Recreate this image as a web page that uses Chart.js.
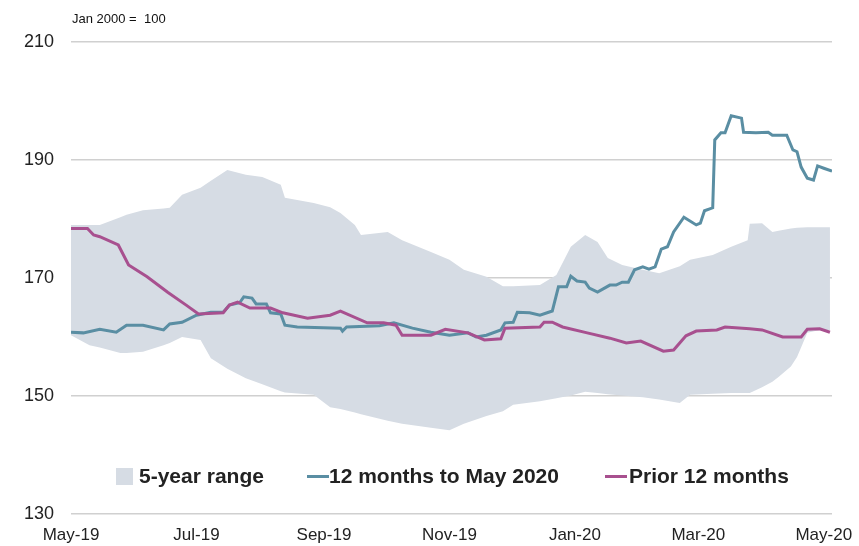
<!DOCTYPE html>
<html>
<head>
<meta charset="utf-8">
<script src="https://cdn.jsdelivr.net/npm/chart.js@4.4.1/dist/chart.umd.min.js"></script>
<style>
  body { margin: 0; background: #fff; font-family: "Liberation Sans", Arial, sans-serif; }
  #wrap { position: relative; width: 859px; height: 546px; }
  #note { position: absolute; left: 72px; top: 11px; font-size: 13px; color: #111; white-space: pre; }
  .leg { position: absolute; top: 464px; font-size: 21px; font-weight: bold; color: #222; line-height: 24px; }
  .box { position: absolute; top: 468px; width: 17px; height: 17px; background: #d6dce4; }
  .ln { position: absolute; top: 475px; width: 22px; height: 3px; }
</style>
</head>
<body>
<div id="wrap">
  <canvas id="chart"></canvas>
  <div id="note">Jan 2000 =  100</div>
  <div class="box" style="left:116px"></div>
  <div class="leg" style="left:139px">5-year range</div>
  <div class="ln" style="left:307px;background:#5a8ea3"></div>
  <div class="leg" style="left:329px">12 months to May 2020</div>
  <div class="ln" style="left:605px;background:#a8508f"></div>
  <div class="leg" style="left:629px">Prior 12 months</div>
</div>
<script>
// x values are days since 1 May 2019
const tickDays = [0, 61, 123, 184, 245, 305, 366];
const tickLabels = ['May-19', 'Jul-19', 'Sep-19', 'Nov-19', 'Jan-20', 'Mar-20', 'May-20'];

const bandDays = [0, 9, 14, 24, 27, 35, 45, 48, 54, 63, 68, 76, 85, 93, 102, 104, 118, 126, 131, 138,
  141, 154, 161, 175, 184, 191, 202, 210, 215, 228, 236, 243, 250, 256, 261, 268, 278, 286, 296, 301,
  312, 321, 329, 330, 336, 341, 344, 350, 353, 358, 364, 369];
const bandHigh = [179.0, 179.0, 179.0, 180.3, 180.7, 181.5, 181.8, 181.9, 184.1, 185.3, 186.5, 188.3,
  187.5, 187.1, 185.8, 183.6, 182.7, 182.0, 181.0, 179.0, 177.3, 177.8, 176.4, 174.4, 173.1, 171.4,
  170.2, 168.6, 168.6, 168.8, 170.5, 175.3, 177.3, 176.1, 173.4, 172.2, 171.4, 170.8, 172.0, 173.1,
  173.9, 175.3, 176.4, 179.2, 179.3, 177.8, 178.0, 178.4, 178.5, 178.6, 178.6, 178.6];
const bandLow = [160.3, 158.6, 158.2, 157.3, 157.3, 157.5, 158.6, 159.0, 160.0, 159.5, 156.4, 154.6,
  153.0, 152.0, 150.8, 150.6, 150.2, 148.1, 147.8, 147.2, 146.9, 145.8, 145.3, 144.6, 144.2, 145.3,
  146.6, 147.4, 148.5, 149.1, 149.6, 150.1, 150.7, 150.5, 150.3, 150.1, 149.8, 149.4, 148.8, 150.2,
  150.4, 150.5, 150.5, 150.5, 151.5, 152.4, 153.2, 155.0, 156.6, 160.7, 161.2, 161.2];

const recentDays = [0, 6, 14, 22, 27, 35, 45, 48, 54, 61, 68, 74, 77, 82, 84, 88, 90, 95, 97, 102,
  104, 110, 131, 132, 134, 150, 157, 166, 175, 184, 193, 197, 202, 209, 211, 215, 217, 223, 228, 234,
  237, 241, 243, 246, 250, 252, 256, 262, 265, 268, 271, 274, 278, 281, 284, 287, 290, 293, 298, 304,
  306, 308, 312, 313, 316, 318, 321, 326, 327, 333, 339, 341, 348, 351, 353, 355, 358, 361, 363, 366, 370];
const recentValues = [160.8, 160.7, 161.3, 160.8, 162.0, 162.0, 161.2, 162.2, 162.5, 163.7, 164.2,
  164.2, 165.4, 165.8, 166.8, 166.6, 165.6, 165.6, 164.1, 163.9, 162.0, 161.7, 161.5, 161.0, 161.7,
  161.9, 162.4, 161.5, 160.8, 160.3, 160.7, 160.0, 160.3, 161.2, 162.4, 162.5, 164.2, 164.1, 163.7,
  164.4, 168.5, 168.5, 170.3, 169.5, 169.3, 168.3, 167.6, 168.8, 168.8, 169.3, 169.3, 171.4, 171.9,
  171.5, 171.9, 174.9, 175.3, 177.8, 180.3, 179.0, 179.3, 181.4, 181.9, 193.4, 194.6, 194.6, 197.5,
  197.1, 194.7, 194.6, 194.7, 194.2, 194.2, 191.7, 191.4, 188.8, 186.9, 186.6, 189.0, 188.6, 188.1];

const priorDays = [0, 8, 11, 14, 23, 28, 37, 47, 56, 62, 74, 77, 81, 87, 97, 103, 115, 126, 131, 144,
  152, 158, 161, 175, 182, 193, 201, 209, 211, 228, 230, 234, 239, 251, 262, 270, 277, 288, 293, 299,
  304, 314, 318, 330, 336, 346, 355, 358, 364, 369];
const priorValues = [178.4, 178.4, 177.3, 177.0, 175.6, 172.2, 170.2, 167.6, 165.4, 163.9, 164.1,
  165.4, 165.9, 164.9, 164.9, 164.1, 163.2, 163.7, 164.4, 162.4, 162.4, 162.0, 160.3, 160.3, 161.3,
  160.7, 159.5, 159.7, 161.5, 161.7, 162.5, 162.5, 161.7, 160.7, 159.8, 159.0, 159.3, 157.6, 157.8,
  160.2, 161.0, 161.2, 161.7, 161.4, 161.2, 160.0, 160.0, 161.3, 161.4, 160.8];

function points(xs, ys) {
  return xs.map((x, i) => ({ x: x, y: ys[i] }));
}

new Chart(document.getElementById('chart'), {
  type: 'line',
  data: {
    datasets: [
      {
        label: 'Prior 12 months',
        data: points(priorDays, priorValues),
        borderColor: '#a8508f',
        borderWidth: 3,
        pointRadius: 0,
        fill: false
      },
      {
        label: '12 months to May 2020',
        data: points(recentDays, recentValues),
        borderColor: '#5a8ea3',
        borderWidth: 3,
        pointRadius: 0,
        fill: false
      },
      {
        label: 'low',
        data: points(bandDays, bandLow),
        borderWidth: 0,
        borderColor: 'rgba(0,0,0,0)',
        pointRadius: 0,
        fill: false
      },
      {
        label: '5-year range',
        data: points(bandDays, bandHigh),
        borderWidth: 0,
        borderColor: 'rgba(0,0,0,0)',
        backgroundColor: '#d6dce4',
        pointRadius: 0,
        fill: '-1'
      }
    ]
  },
  options: {
    responsive: true,
    maintainAspectRatio: false,
    animation: false,
    layout: { padding: { top: 42, right: 27, left: 0, bottom: 0 } },
    plugins: {
      legend: { display: false },
      tooltip: { enabled: false },
      filler: { drawTime: 'beforeDatasetsDraw' }
    },
    scales: {
      x: {
        type: 'linear',
        min: 0,
        max: 370,
        grid: { display: false, drawTicks: false },
        border: { display: false },
        afterBuildTicks: scale => { scale.ticks = tickDays.map(d => ({ value: d })); },
        afterFit: scale => {
          scale.height = 32;
          scale.paddingLeft = 0;
          scale.paddingRight = 0;
        },
        ticks: {
          autoSkip: false,
          maxRotation: 0,
          padding: 11,
          color: '#222',
          font: { family: '"Liberation Sans", Arial, sans-serif', size: 17 },
          callback: value => tickLabels[tickDays.indexOf(value)]
        }
      },
      y: {
        min: 130,
        max: 210,
        grid: { color: '#d0d0d0', lineWidth: 1.5, drawTicks: false },
        border: { display: false },
        afterFit: scale => { scale.width = 71; },
        ticks: {
          stepSize: 20,
          padding: 17,
          color: '#222',
          font: { family: '"Liberation Sans", Arial, sans-serif', size: 18 }
        }
      }
    }
  }
});
</script>
</body>
</html>
